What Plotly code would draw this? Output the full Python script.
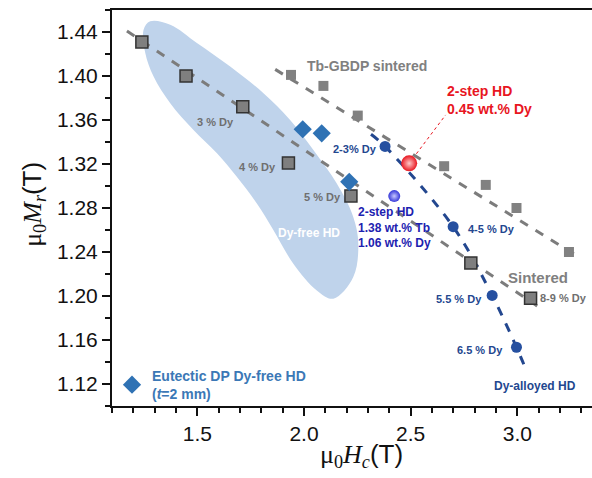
import plotly.graph_objects as go

# --- data -------------------------------------------------------------
# Dy-alloyed sintered magnets (hydrogen-decrepitated powder), squares
hd_hc = [1.240, 1.447, 1.713, 1.927, 2.220, 2.782, 3.062]
hd_mr = [1.431, 1.400, 1.372, 1.321, 1.291, 1.230, 1.198]
hd_guide_hc = [1.170, 3.093]
hd_guide_mr = [1.441, 1.191]

# Tb grain-boundary diffused sintered magnets
tb_hc = [1.939, 2.091, 2.252, 2.657, 2.852, 2.996, 3.242]
tb_mr = [1.401, 1.391, 1.364, 1.318, 1.301, 1.280, 1.240]
tb_guide_hc = [1.865, 3.292]
tb_guide_mr = [1.406, 1.235]

# Dy-alloyed HD magnets
dy_hc = [2.380, 2.699, 2.882, 2.996]
dy_mr = [1.336, 1.263, 1.2005, 1.1534]
dy_guide_hc = [2.314, 2.380, 2.699, 2.882, 2.996, 3.040]
dy_guide_mr = [1.347, 1.336, 1.263, 1.2005, 1.1534, 1.1334]

# Eutectic diffusion-processed Dy-free HD magnets
eut_hc = [1.994, 2.083, 2.212]
eut_mr = [1.3516, 1.3479, 1.3038]

# Two-step HD magnets
red_hc, red_mr = [2.493], [1.3206]
blue_hc, blue_mr = [2.423], [1.2908]

# Dy-free HD region outline
region_hc = [1.279, 1.373, 1.498, 1.654, 1.810, 1.935, 2.044, 2.153, 2.231, 2.2545,
             2.231, 2.1375, 2.060, 1.950, 1.857, 1.779, 1.685, 1.592, 1.482, 1.373,
             1.295, 1.256, 1.248, 1.279]
region_mr = [1.4497, 1.4467, 1.430, 1.4086, 1.3844, 1.360, 1.3327, 1.3024, 1.2719, 1.2477,
             1.2172, 1.1975, 1.2051, 1.2294, 1.2598, 1.2841, 1.3084, 1.3297, 1.3509, 1.3753,
             1.3995, 1.4209, 1.4421, 1.4497]

x_ticks = [1.5, 2.0, 2.5, 3.0]
y_ticks = [1.12, 1.16, 1.20, 1.24, 1.28, 1.32, 1.36, 1.40, 1.44]

GRAY = "#7c7c7c"
GRAY_TXT = "#6f6f6f"
NAVY = "#23478f"
STEEL = "#2f72b4"
RED = "#e8161f"
BLUE_TXT = "#1d22b0"
SANS = "Liberation Sans, Arial, sans-serif"

fig = go.Figure()

fig.add_trace(go.Scatter(
    x=region_hc, y=region_mr, mode="lines", line=dict(width=0, shape="spline", smoothing=1.0),
    fill="toself", fillcolor="#bfd3eb", hoverinfo="skip", showlegend=False))

fig.add_trace(go.Scatter(
    x=hd_guide_hc, y=hd_guide_mr, mode="lines",
    line=dict(color=GRAY, width=3, dash="dash"), showlegend=False))
fig.add_trace(go.Scatter(
    x=tb_guide_hc, y=tb_guide_mr, mode="lines",
    line=dict(color=GRAY, width=3, dash="dash"), showlegend=False))
fig.add_trace(go.Scatter(
    x=dy_guide_hc, y=dy_guide_mr, mode="lines",
    line=dict(color=NAVY, width=3, dash="dash", shape="spline"), showlegend=False))

fig.add_trace(go.Scatter(
    x=hd_hc, y=hd_mr, mode="markers",
    marker=dict(symbol="square", size=12, color="#7f7f7f", line=dict(color="#333333", width=1.5)),
    showlegend=False))
fig.add_trace(go.Scatter(
    x=tb_hc, y=tb_mr, mode="markers",
    marker=dict(symbol="square", size=10, color="#818181", line=dict(width=0)),
    showlegend=False))
fig.add_trace(go.Scatter(
    x=dy_hc, y=dy_mr, mode="markers",
    marker=dict(symbol="circle", size=11, color="#2650a0", line=dict(width=0)),
    showlegend=False))
fig.add_trace(go.Scatter(
    x=eut_hc, y=eut_mr, mode="markers", name="<b>Eutectic DP Dy-free HD<br>(<i>t</i>=2 mm)</b>",
    marker=dict(symbol="diamond", size=14, color=STEEL, line=dict(width=0)),
    showlegend=True))
fig.add_trace(go.Scatter(
    x=red_hc, y=red_mr, mode="markers",
    marker=dict(symbol="circle", size=16, color="#e81620",
                gradient=dict(type="radial", color="#ffc8c8"), line=dict(width=0)),
    showlegend=False))
fig.add_trace(go.Scatter(
    x=blue_hc, y=blue_mr, mode="markers",
    marker=dict(symbol="circle", size=12, color="#3436d8",
                gradient=dict(type="radial", color="#c8c8ff"), line=dict(width=0)),
    showlegend=False))

# dotted leader from the red label to its point
RED_LABEL_X, RED_LABEL_Y = 2.664, 1.3646
fig.add_shape(type="line", xref="x", yref="y", x0=red_hc[0], y0=red_mr[0],
              x1=RED_LABEL_X, y1=RED_LABEL_Y,
              line=dict(color=RED, width=1, dash="dot"), layer="below")


def label(text, x, y, color, size, xanchor="center", yanchor="middle", align="center", yshift=0):
    fig.add_annotation(text=text, x=x, y=y, xref="x", yref="y", showarrow=False,
                       xanchor=xanchor, yanchor=yanchor, align=align, yshift=yshift,
                       font=dict(family=SANS, size=size, color=color))


label("<b>3 % Dy</b>", 1.5836, 1.3585, GRAY_TXT, 11)
label("<b>4 % Dy</b>", 1.8786, 1.3175, GRAY_TXT, 11, xanchor="right")
label("<b>5 % Dy</b>", 2.1829, 1.2896, GRAY_TXT, 11, xanchor="right")
label("<b>8-9 % Dy</b>", 3.0972, 1.1984, GRAY_TXT, 11, xanchor="left")
label("<b>2-3% Dy</b>", 2.3514, 1.3336, NAVY, 11, xanchor="right")
label("<b>4-5 % Dy</b>", 2.7587, 1.2613, NAVY, 11, xanchor="left")
label("<b>5.5 % Dy</b>", 2.843, 1.1975, NAVY, 11, xanchor="right")
label("<b>6.5 % Dy</b>", 2.9413, 1.1513, NAVY, 11, xanchor="right")
label("<b>Dy-alloyed HD</b>", 3.0817, 1.1178, NAVY, 12)
label("<b>Dy-free HD</b>", 2.0251, 1.2573, "#ffffff", 12)
label("<b>Sintered</b>", 3.0958, 1.2172, "#808080", 15)
label("<b>Tb-GBDP sintered</b>", 2.2938, 1.4093, "#808080", 14)
label("<b>2-step HD<br>0.45 wt.% Dy</b>", RED_LABEL_X - 0.004, RED_LABEL_Y, RED, 14,
      xanchor="left", yanchor="bottom", align="left", yshift=-4)
label("<b>2-step HD<br>1.38 wt.% Tb<br>1.06 wt.% Dy</b>", 2.2423, 1.2622, BLUE_TXT, 12,
      xanchor="left", align="left")

SERIF = "font-family:'Liberation Serif','Times New Roman',serif"
fig.add_annotation(
    text=f"<span style=\"{SERIF}\">μ<sub>0</sub><i>H</i><sub><i>c</i></sub></span>(T)",
    xref="paper", yref="paper", x=0.52, y=-0.125, xanchor="center", yanchor="middle",
    showarrow=False, font=dict(family=SANS, size=26, color="#111111"))
fig.add_annotation(
    text=f"<span style=\"{SERIF}\">μ<sub>0</sub><i>M</i><sub><i>r</i></sub></span>(T)",
    xref="paper", yref="paper", x=-0.165, y=0.51, xanchor="center", yanchor="middle",
    textangle=-90, showarrow=False, font=dict(family=SANS, size=26, color="#111111"))

fig.update_xaxes(
    range=[1.1, 3.35], tickvals=x_ticks, ticktext=[f"{v:.1f}" for v in x_ticks],
    ticks="outside", ticklen=8, tickwidth=2, tickcolor="#111111",
    minor=dict(dtick=0.1, ticks="outside", ticklen=5, tickwidth=2, tickcolor="#111111"),
    showline=True, linewidth=2, linecolor="#111111", mirror=True,
    showgrid=False, zeroline=False,
    tickfont=dict(family=SANS, size=21, color="#111111"))
fig.update_yaxes(
    range=[1.10, 1.46], tickvals=y_ticks, ticktext=[f"{v:.2f}" for v in y_ticks],
    ticks="outside", ticklen=8, tickwidth=2, tickcolor="#111111",
    minor=dict(dtick=0.02, ticks="outside", ticklen=5, tickwidth=2, tickcolor="#111111"),
    showline=True, linewidth=2, linecolor="#111111",
    showgrid=False, zeroline=False,
    tickfont=dict(family=SANS, size=21, color="#111111"))

fig.update_layout(
    width=592, height=478,
    margin=dict(l=112, r=0, t=10, b=72),
    paper_bgcolor="white", plot_bgcolor="white",
    showlegend=True,
    legend=dict(x=0.0, y=-0.01, xanchor="left", yanchor="bottom",
                bgcolor="rgba(0,0,0,0)", borderwidth=0,
                font=dict(family=SANS, size=14, color="#3b78b6"),
                itemwidth=30),
)

fig.write_html("out.html")
